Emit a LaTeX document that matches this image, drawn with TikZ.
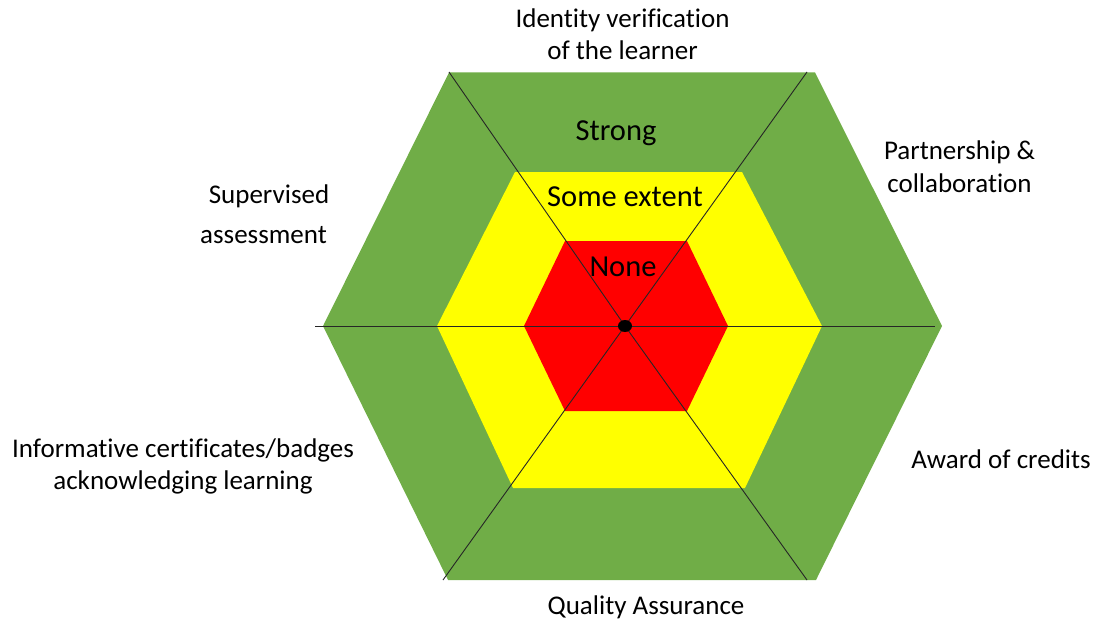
\documentclass[tikz,border=0pt]{standalone}
\usepackage{fontspec}
\usetikzlibrary{shapes.geometric}
\setmainfont[Ligatures={NoCommon}]{Carlito}
\definecolor{hexgreen}{HTML}{70AD47}
\definecolor{hexyellow}{HTML}{FFFF00}
\definecolor{hexred}{HTML}{FF0000}
\tikzset{
  outlbl/.style={anchor=base, inner sep=0pt, font=\fontsize{27}{32}\selectfont},
  inlbl/.style={anchor=base, inner sep=0pt, font=\fontsize{30.5}{36}\selectfont},
  spoke/.style={draw=black!85, line width=0.9pt},
}
\begin{document}
\begin{tikzpicture}[x=1pt,y=-1pt]
\useasboundingbox (0,0) rectangle (1100,623);
% hexagons
\fill[hexgreen] (323,326) -- (449,72.5) -- (815,72.5) -- (942,326) -- (816,580) -- (448,580) -- cycle;
\fill[hexyellow] (437,326) -- (515,172) -- (742,172) -- (822,326) -- (745,488) -- (513,488) -- cycle;
\fill[hexred] (524,326) -- (565,241) -- (687,241) -- (728,326) -- (687,411) -- (565,411) -- cycle;
% spokes
\coordinate (c) at (625,326);
\coordinate (tl) at (449,72);
\coordinate (tr) at (807,72);
\coordinate (bl) at (443,580);
\coordinate (br) at (807,580);
\coordinate (l) at (315,326);
\coordinate (r) at (935,326);
\draw[spoke] (c) -- (tl);
\draw[spoke] (c) -- (tr);
\draw[spoke] (c) -- (bl);
\draw[spoke] (c) -- (br);
\draw[spoke] (l) -- (r);
\node[fill=black, ellipse, minimum width=14pt, minimum height=12pt, inner sep=0pt] (dot) at (c) {};
% level labels
\node[inlbl] (strong) at (616,140) {Strong};
\node[inlbl] (some) at (625,206) {Some extent};
\node[inlbl] (none) at (623,276) {None};
% outer labels
\node[outlbl] (id1) at (622.5,28) {Identity verification};
\node[outlbl] (id2) at (622.5,60) {of the learner};
\node[outlbl] (pa1) at (959.5,159) {Partnership \&};
\node[outlbl] (pa2) at (959.5,192) {collaboration};
\node[outlbl] (su1) at (269,203) {Supervised};
\node[outlbl] (su2) at (263.5,243) {assessment};
\node[outlbl] (in1) at (183,457) {Informative certificates/badges};
\node[outlbl] (in2) at (183,489) {acknowledging learning};
\node[outlbl] (aw) at (1001,468) {Award of credits};
\node[outlbl] (qa) at (646,614) {Quality Assurance};
\end{tikzpicture}
\end{document}
